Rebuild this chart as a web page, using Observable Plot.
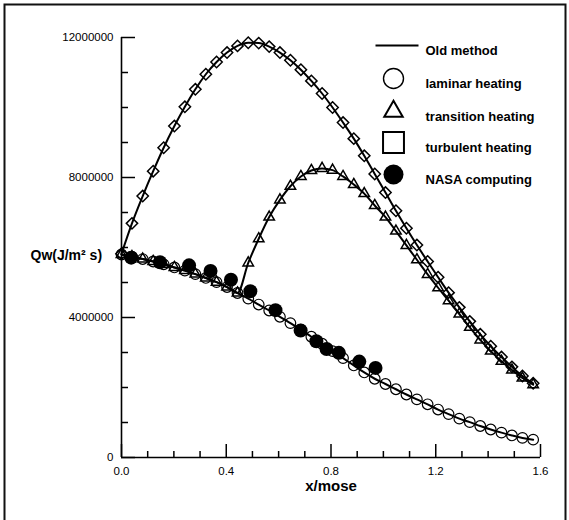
<!DOCTYPE html>
<html>
<head>
<meta charset="utf-8">
<script src="https://cdn.jsdelivr.net/npm/d3@7"></script>
<script src="https://cdn.jsdelivr.net/npm/@observablehq/plot@0.6"></script>
<style>
  body { margin: 0; background: #fff; }
  #chart svg { display: block; }
</style>
</head>
<body>
<div id="chart"></div>
<script>
// ---- data ----
const xPos = [0, 0.04, 0.081, 0.121, 0.161, 0.202, 0.242, 0.282, 0.322, 0.363,
  0.403, 0.443, 0.484, 0.524, 0.564, 0.605, 0.645, 0.685, 0.725, 0.766,
  0.806, 0.846, 0.887, 0.927, 0.967, 1.008, 1.048, 1.088, 1.128, 1.169,
  1.209, 1.249, 1.29, 1.33, 1.37, 1.41, 1.451, 1.491, 1.531, 1.572];

const turbulentQ = [5820000, 6690000, 7470000, 8180000, 8850000, 9470000, 10020000, 10520000, 10950000, 11300000,
  11570000, 11760000, 11850000, 11840000, 11740000, 11570000, 11350000, 11080000, 10760000, 10400000,
  10000000, 9570000, 9110000, 8620000, 8100000, 7570000, 7050000, 6550000, 6070000, 5600000,
  5150000, 4710000, 4290000, 3890000, 3520000, 3180000, 2870000, 2590000, 2330000, 2120000];

const transitionQ = [5800000, 5740000, 5670000, 5600000, 5520000, 5430000, 5340000, 5240000, 5130000, 5010000,
  4870000, 4700000, 5560000, 6250000, 6870000, 7360000, 7750000, 8030000, 8200000, 8260000,
  8210000, 8030000, 7800000, 7540000, 7200000, 6870000, 6470000, 6060000, 5650000, 5230000,
  4850000, 4480000, 4100000, 3720000, 3360000, 3040000, 2750000, 2500000, 2270000, 2080000];

const laminarQ = [5800000, 5740000, 5670000, 5600000, 5520000, 5430000, 5340000, 5240000, 5130000, 5010000,
  4870000, 4700000, 4540000, 4370000, 4200000, 4020000, 3840000, 3650000, 3450000, 3250000,
  3040000, 2840000, 2630000, 2430000, 2250000, 2100000, 1950000, 1800000, 1660000, 1520000,
  1370000, 1240000, 1110000, 1010000, 900000, 800000, 710000, 630000, 560000, 510000];

const nasaX = [0.037, 0.147, 0.258, 0.34, 0.418, 0.492, 0.588, 0.684, 0.744, 0.783, 0.83, 0.908, 0.97];
const nasaQ = [5710000, 5580000, 5490000, 5330000, 5080000, 4750000, 4210000, 3630000, 3320000, 3100000, 2990000, 2740000, 2560000];

const xMajorTicks = [0, 0.4, 0.8, 1.2, 1.6];
const xMinorTicks = [0.1, 0.2, 0.3, 0.5, 0.6, 0.7, 0.9, 1.0, 1.1, 1.3, 1.4, 1.5];
const yMajorTicks = [0, 4000000, 8000000, 12000000];
const yMinorTicks = [1000000, 2000000, 3000000, 5000000, 6000000, 7000000, 9000000, 10000000, 11000000];

const xLabel = "x/mose";
const yLabel = "Qw(J/m\u00B2 s)";
const legendLabels = ["Old method", "laminar heating", "transition heating", "turbulent heating", "NASA computing"];

// ---- tables ----
const turbRows = xPos.map((x, i) => ({x, q: turbulentQ[i]}));
const transRows = xPos.map((x, i) => ({x, q: transitionQ[i]}));
const lamRows = xPos.map((x, i) => ({x, q: laminarQ[i]}));
const nasaRows = nasaX.map((x, i) => ({x, q: nasaQ[i]}));

// ---- layout ----
const W = 569, H = 520;
const mL = 121, mR = 29, mT = 37, mB = 63;
const fw = W - mL - mR, fh = H - mT - mB;
const font = "'Liberation Sans', Arial, Helvetica, sans-serif";

const legendRow = [45, 78, 111, 142, 174]; // pixel rows of legend entries
const legendSymX = 393, legendTextX = 425;

const marks = [
  // outer border of the figure
  Plot.frame({stroke: "#111", strokeWidth: 2, insetLeft: 4 - mL, insetTop: 4 - mT, insetRight: fw + mL - 565, insetBottom: -(H + 10 - mT - fh)}),
  // inward ticks (tick-only axes)
  Plot.axisX({ticks: xMajorTicks, tickSize: -13, fill: "none", label: null, strokeWidth: 1.5, stroke: "black"}),
  Plot.axisX({ticks: xMinorTicks, tickSize: -6, fill: "none", label: null, strokeWidth: 1.5, stroke: "black"}),
  Plot.axisY({ticks: yMajorTicks, tickSize: -14, fill: "none", label: null, strokeWidth: 1.5, stroke: "black"}),
  Plot.axisY({ticks: yMinorTicks, tickSize: -7, fill: "none", label: null, strokeWidth: 1.5, stroke: "black"}),
  // axis lines
  Plot.ruleX([0], {strokeWidth: 1.6}),
  Plot.ruleY([0], {strokeWidth: 1.6}),
  // tick labels
  Plot.axisX({ticks: xMajorTicks, tickSize: 0, tickPadding: 9, tickFormat: d => d.toFixed(1), fontSize: 11.5, label: null}),
  Plot.axisY({ticks: yMajorTicks, tickSize: 0, tickPadding: 8, tickFormat: d => String(d), fontSize: 11.5, label: null}),
  // old method lines
  Plot.line(turbRows, {x: "x", y: "q", curve: "monotone-x", strokeWidth: 2}),
  Plot.line(transRows, {x: "x", y: "q", curve: "monotone-x", strokeWidth: 2}),
  Plot.line(lamRows, {x: "x", y: "q", curve: "monotone-x", strokeWidth: 2}),
  // markers
  Plot.dot(lamRows, {x: "x", y: "q", symbol: "circle", r: 5.3, stroke: "black", strokeWidth: 1.2, fill: "none"}),
  Plot.dot(transRows, {x: "x", y: "q", symbol: "triangle2", r: 5, stroke: "black", strokeWidth: 1.5, fill: "none"}),
  Plot.dot(turbRows, {x: "x", y: "q", symbol: "diamond2", r: 5.1, stroke: "black", strokeWidth: 1.5, fill: "none"}),
  Plot.dot(nasaRows, {x: "x", y: "q", symbol: "circle", r: 7, fill: "black", stroke: "none"}),
  // axis titles
  Plot.text([yLabel], {text: d => d, frameAnchor: "left", dx: 30 - mL, dy: 8, textAnchor: "start", fontWeight: "bold", fontSize: 14}),
  Plot.text([xLabel], {text: d => d, frameAnchor: "bottom", dy: 33, fontWeight: "bold", fontSize: 15}),
  // legend
  Plot.frame({fill: "black", stroke: "none", insetLeft: 375 - mL, insetRight: mL + fw - 418, insetTop: legendRow[0] - 1 - mT, insetBottom: mT + fh - legendRow[0] - 1}),
  Plot.dot([legendLabels[1]], {frameAnchor: "top-left", dx: legendSymX - mL, dy: legendRow[1] - mT, symbol: "circle", r: 10, stroke: "black", strokeWidth: 1.4, fill: "none"}),
  Plot.dot([legendLabels[2]], {frameAnchor: "top-left", dx: legendSymX - mL, dy: legendRow[2] - mT, symbol: "triangle2", r: 8.8, stroke: "black", strokeWidth: 2, fill: "none"}),
  Plot.dot([legendLabels[3]], {frameAnchor: "top-left", dx: legendSymX - mL, dy: legendRow[3] - mT, symbol: "square", r: 11.8, stroke: "black", strokeWidth: 2, fill: "none"}),
  Plot.dot([legendLabels[4]], {frameAnchor: "top-left", dx: legendSymX - mL, dy: legendRow[4] - mT, symbol: "circle", r: 10, fill: "black", stroke: "none"}),
  ...legendLabels.map((t, i) => Plot.text([t], {text: d => d, frameAnchor: "top-left", dx: legendTextX - mL, dy: legendRow[i] - mT, textAnchor: "start", fontWeight: "bold", fontSize: 13, letterSpacing: "0.5px"}))
];

const chart = Plot.plot({
  width: W,
  height: H,
  marginLeft: mL,
  marginRight: mR,
  marginTop: mT,
  marginBottom: mB,
  style: {fontFamily: font, fontSize: "11.5px", color: "black", background: "white", overflow: "visible"},
  x: {domain: [0, 1.6]},
  y: {domain: [0, 12000000]},
  marks
});
document.getElementById("chart").appendChild(chart);
</script>
</body>
</html>
